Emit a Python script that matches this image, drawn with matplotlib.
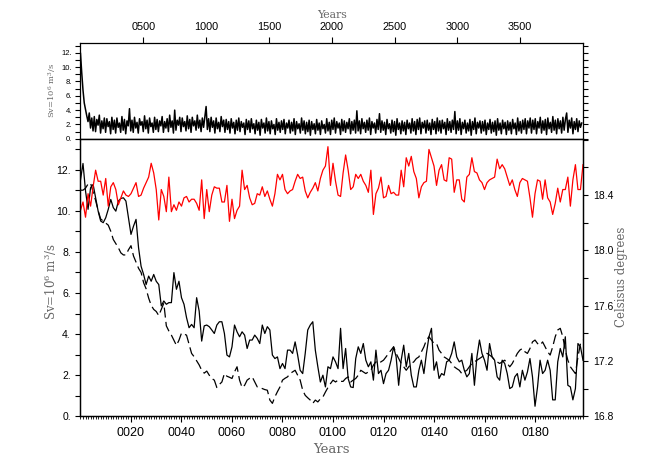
import numpy as np
import matplotlib
matplotlib.use("Agg")
import matplotlib.pyplot as plt
from matplotlib.ticker import MultipleLocator, FuncFormatter

# long control run, one value every 10 years (Sv)
long_years = np.arange(0, 4000, 10)
long_moc = [
    11.9, 9.2, 6.8, 5.0, 4.1, 3.2, 2.4, 3.6, 1.5, 2.9, 1.1, 3.1, 1.0, 2.7, 1.9, 3.3, 0.8, 2.5, 1.4, 2.9,
    0.9, 2.8, 1.7, 2.4, 0.7, 3.0, 1.3, 2.6, 0.8, 2.9, 1.6, 2.2, 0.9, 3.1, 1.2, 2.7, 0.7, 2.5, 1.8, 4.2,
    1.1, 2.6, 0.9, 3.0, 1.5, 2.3, 0.8, 2.8, 1.9, 2.4, 1.0, 3.2, 1.4, 2.6, 0.8, 2.9, 1.7, 2.2, 0.9, 3.0,
    1.3, 2.7, 1.0, 2.5, 1.8, 3.1, 0.9, 2.4, 1.5, 2.8, 1.0, 3.3, 1.6, 2.5, 0.8, 4.0, 1.2, 2.6, 1.9, 3.0,
    1.0, 2.9, 1.7, 2.4, 1.1, 3.2, 1.4, 2.7, 0.9, 3.0, 1.8, 2.5, 1.2, 3.3, 1.5, 2.6, 1.0, 2.9, 1.6, 3.1,
    4.5, 1.3, 2.8, 1.0, 3.0, 1.6, 2.5, 0.8, 2.9, 1.4, 2.3, 1.0, 3.1, 1.7, 2.6, 0.9, 2.7, 1.3, 2.4, 0.8,
    2.8, 1.5, 2.3, 0.7, 2.6, 1.2, 2.9, 1.0, 2.4, 1.6, 2.2, 0.6, 2.7, 1.3, 2.5, 0.9, 2.8, 1.4, 2.1, 0.7,
    2.6, 1.2, 2.3, 0.5, 2.7, 1.5, 2.2, 0.8, 2.9, 1.1, 2.4, 0.7, 2.5, 1.4, 2.0, 0.6, 2.8, 1.2, 2.3, 0.9,
    2.5, 1.3, 2.7, 0.7, 2.2, 1.5, 2.6, 0.8, 2.3, 1.1, 2.8, 0.6, 2.4, 1.4, 2.1, 0.8, 2.9, 1.2, 2.5, 0.7,
    2.3, 1.0, 2.6, 0.5, 2.4, 1.3, 2.1, 0.7, 2.7, 1.2, 2.2, 0.6, 2.5, 1.4, 2.0, 0.8, 2.8, 1.1, 2.3, 0.6,
    2.6, 1.3, 2.9, 0.8, 2.4, 1.5, 2.2, 0.6, 2.7, 1.1, 2.5, 0.9, 2.3, 1.4, 2.8, 0.7, 2.4, 1.2, 2.6, 0.8,
    3.9, 1.1, 2.5, 0.7, 2.8, 1.4, 2.3, 0.9, 2.6, 1.2, 2.9, 0.6, 2.4, 1.5, 2.2, 0.8, 2.7, 1.3, 3.5, 0.9,
    2.5, 1.2, 2.3, 0.6, 2.7, 1.4, 2.1, 0.8, 2.6, 1.0, 2.4, 0.5, 2.8, 1.3, 2.2, 0.7, 2.5, 1.1, 2.3, 0.6,
    2.6, 1.4, 2.2, 0.8, 2.8, 1.1, 2.4, 0.6, 2.7, 1.3, 2.9, 0.7, 2.3, 1.5, 2.5, 0.8, 2.6, 1.2, 2.2, 0.6,
    2.7, 1.3, 2.4, 0.7, 2.9, 1.1, 2.5, 0.8, 2.6, 1.4, 2.3, 0.6, 2.8, 1.2, 2.4, 0.9, 2.6, 1.3, 3.8, 0.7,
    2.5, 1.2, 2.8, 0.6, 2.3, 1.4, 2.6, 0.8, 2.2, 1.1, 2.7, 0.5, 2.4, 1.3, 2.9, 0.7, 2.3, 1.5, 2.5, 0.8,
    2.4, 1.1, 2.6, 0.6, 2.2, 1.3, 2.7, 0.8, 2.3, 1.0, 2.5, 0.5, 2.8, 1.2, 2.2, 0.7, 2.6, 1.4, 2.3, 0.6,
    2.5, 1.2, 2.3, 0.7, 2.7, 1.4, 2.2, 0.6, 2.9, 1.1, 2.4, 0.8, 2.6, 1.3, 2.8, 0.7, 2.5, 1.5, 2.9, 0.8,
    2.6, 1.3, 2.8, 0.7, 2.4, 1.5, 3.0, 0.8, 2.5, 1.2, 2.7, 0.6, 2.9, 1.4, 2.3, 0.9, 3.1, 1.2, 2.6, 0.7,
    2.8, 1.4, 2.5, 0.8, 3.0, 1.2, 2.7, 3.6, 0.9, 2.6, 1.5, 2.9, 0.7, 2.4, 1.3, 2.8, 1.0, 2.5, 1.6, 2.2,
]

# first 200 years, annual
years = np.arange(200)
moc_solid = [
    11.5, 12.3, 10.96, 10.07, 11.12, 11.28, 10.63, 9.98, 9.5, 9.42,
    9.66, 10.07, 10.55, 10.15, 9.98, 10.47, 10.6, 10.63, 10.47, 9.66,
    8.85, 9.25, 9.58, 8.2, 7.3, 6.9, 6.41, 6.82, 6.57, 6.9,
    6.57, 6.41, 5.37, 5.61, 5.45, 5.53, 5.53, 6.99, 6.18, 6.57,
    5.77, 5.45, 4.8, 4.31, 4.47, 4.31, 5.77, 5.12, 3.66, 4.4,
    4.44, 4.36, 4.2, 4.03, 4.44, 4.6, 4.6, 4.03, 2.98, 2.89,
    3.38, 4.44, 4.11, 3.87, 4.11, 3.95, 3.3, 3.71, 3.71, 3.95,
    3.79, 3.54, 4.44, 4.03, 4.36, 4.2, 2.98, 2.81, 2.89, 2.32,
    2.57, 2.32, 3.22, 3.22, 3.06, 3.62, 2.98, 2.24, 2.08, 3.06,
    4.2, 4.44, 4.6, 3.22, 2.41, 1.67, 2.0, 1.43, 2.41, 2.32,
    2.89, 2.65, 2.32, 4.28, 2.32, 3.3, 1.84, 1.43, 1.4, 2.81,
    3.38, 3.06, 3.54, 2.73, 2.41, 2.65, 1.76, 3.22, 2.08, 2.24,
    1.59, 2.08, 2.24, 2.73, 3.38, 2.89, 1.51, 2.73, 3.46, 2.41,
    3.06, 2.0, 1.43, 1.43, 2.24, 2.73, 2.08, 3.06, 3.87, 4.28,
    2.24, 2.65, 1.84, 2.08, 2.0, 2.65, 2.73, 3.06, 3.62, 2.89,
    2.65, 2.73, 2.24, 1.92, 2.08, 3.06, 1.51, 2.89, 3.71, 3.06,
    2.73, 2.24, 3.54, 2.89, 2.73, 1.92, 1.76, 2.73, 2.57, 2.08,
    1.35, 1.43, 1.92, 2.08, 1.43, 2.24, 1.76, 2.16, 2.81, 1.92,
    0.49, 1.43, 2.73, 2.08, 2.24, 2.73, 2.24, 0.8, 0.8, 2.65,
    3.3, 2.89, 3.87, 1.51, 1.43, 0.8, 1.35, 3.54, 3.38, 2.73,
]
moc_dashed = [
    11.0, 11.0, 11.1, 11.3, 11.35, 10.9, 10.5, 10.0, 9.6, 9.5,
    9.4, 9.3, 9.0, 8.6, 8.4, 8.2, 7.95, 7.85, 7.85, 8.1,
    8.3, 7.8, 7.5, 7.2, 7.0, 6.5, 6.2, 5.75, 5.4, 5.2,
    5.1, 4.9, 5.2, 5.5, 4.4, 4.15, 3.95, 3.7, 3.45, 3.7,
    4.05, 4.0, 3.95, 3.5, 3.06, 2.9, 2.7, 2.5, 2.24, 2.1,
    2.2, 2.0, 1.84, 1.76, 1.4, 1.55, 1.67, 2.08, 1.95, 1.9,
    1.84, 2.16, 2.41, 1.76, 1.4, 1.51, 1.76, 1.85, 1.92, 1.67,
    1.43, 1.4, 1.35, 1.3, 1.27, 0.79, 0.63, 0.95, 1.2, 1.43,
    1.76, 1.85, 1.92, 2.08, 2.16, 2.24, 2.0, 1.76, 1.27, 1.02,
    0.9, 0.79, 0.63, 0.79, 0.7, 0.85, 0.94, 1.18, 1.4, 1.59,
    1.76, 1.67, 1.76, 1.7, 1.7, 1.84, 1.92, 1.67, 1.76, 1.84,
    2.0, 2.24, 2.16, 2.08, 2.16, 2.24, 2.49, 2.65, 2.57, 2.65,
    2.73, 2.89, 3.06, 3.22, 3.38, 3.06, 2.81, 2.57, 2.41, 2.24,
    2.41, 2.57, 2.65, 2.81, 2.89, 3.14, 3.38, 3.71, 3.87, 3.71,
    3.54, 3.54, 3.22, 3.06, 2.89, 2.81, 2.73, 2.57, 2.41, 2.32,
    2.24, 2.08, 2.16, 2.24, 2.41, 2.57, 2.65, 2.73, 2.81, 2.89,
    3.06, 3.06, 2.98, 2.89, 2.73, 2.65, 2.57, 2.65, 2.73, 2.57,
    2.41, 2.57, 2.81, 3.06, 3.22, 3.3, 3.14, 3.06, 3.3, 3.62,
    3.71, 3.54, 3.46, 3.62, 3.38, 3.14, 2.98, 3.38, 3.87, 4.2,
    4.28, 3.87, 3.22, 2.73, 2.41, 2.24, 2.08, 2.89, 3.54, 3.71,
]
# temperature (right axis, Celsius)
temp = [
    18.29, 18.35, 18.24, 18.41, 18.32, 18.46, 18.58, 18.50, 18.50, 18.40,
    18.52, 18.32, 18.46, 18.49, 18.44, 18.33, 18.38, 18.43, 18.40, 18.39,
    18.41, 18.45, 18.49, 18.39, 18.40, 18.45, 18.49, 18.53, 18.63, 18.56,
    18.44, 18.22, 18.44, 18.39, 18.28, 18.53, 18.28, 18.33, 18.29, 18.35,
    18.32, 18.38, 18.39, 18.35, 18.37, 18.37, 18.34, 18.29, 18.51, 18.23,
    18.44, 18.28, 18.40, 18.46, 18.45, 18.45, 18.35, 18.35, 18.47, 18.21,
    18.37, 18.23, 18.29, 18.32, 18.58, 18.44, 18.47, 18.38, 18.33, 18.34,
    18.41, 18.40, 18.46, 18.39, 18.43, 18.37, 18.32, 18.41, 18.55, 18.51,
    18.55, 18.44, 18.41, 18.43, 18.44, 18.50, 18.55, 18.52, 18.53, 18.43,
    18.38, 18.42, 18.45, 18.49, 18.43, 18.52, 18.58, 18.61, 18.75, 18.47,
    18.63, 18.50, 18.40, 18.39, 18.56, 18.69, 18.58, 18.44, 18.46, 18.55,
    18.52, 18.55, 18.50, 18.47, 18.42, 18.58, 18.26, 18.41, 18.45, 18.53,
    18.38, 18.39, 18.47, 18.41, 18.42, 18.40, 18.40, 18.58, 18.46, 18.67,
    18.61, 18.68, 18.57, 18.52, 18.38, 18.46, 18.49, 18.50, 18.73, 18.67,
    18.61, 18.47, 18.58, 18.62, 18.51, 18.50, 18.67, 18.66, 18.42, 18.51,
    18.51, 18.37, 18.35, 18.53, 18.55, 18.67, 18.57, 18.56, 18.51, 18.49,
    18.44, 18.49, 18.51, 18.52, 18.53, 18.66, 18.59, 18.62, 18.59, 18.53,
    18.47, 18.51, 18.44, 18.39, 18.49, 18.52, 18.51, 18.50, 18.38, 18.24,
    18.41, 18.51, 18.50, 18.37, 18.51, 18.38, 18.35, 18.26, 18.34, 18.45,
    18.35, 18.44, 18.44, 18.53, 18.32, 18.51, 18.62, 18.44, 18.44, 18.62,
]

plt.rcParams['font.family'] = ['Liberation Sans', 'DejaVu Sans']
plt.rcParams['mathtext.fontset'] = 'dejavuserif'
label_kw = dict(family='DejaVu Serif', color='#666666')

fig = plt.figure(figsize=(6.64, 4.65), dpi=100)
ax1 = fig.add_axes([0.1212, 0.7015, 0.7568, 0.2067])
ax2 = fig.add_axes([0.1212, 0.1047, 0.7568, 0.5968])
ax3 = ax2.twinx()

yr_fmt = FuncFormatter(lambda v, p: "%04d" % int(round(v)))
dot_fmt = FuncFormatter(lambda v, p: "%d." % int(round(v)))

# top panel: whole run
ax1.plot(long_years, long_moc, color='black', lw=1.1)
ax1.set_xlim(0, 4000)
ax1.set_ylim(0, 13.4)
ax1.set_xticks(range(500, 4000, 500))
ax1.xaxis.set_major_formatter(yr_fmt)
ax1.yaxis.set_major_locator(MultipleLocator(2))
ax1.yaxis.set_minor_locator(MultipleLocator(1))
ax1.yaxis.set_major_formatter(dot_fmt)
ax1.tick_params(axis='x', which='both', direction='out', top=True, bottom=True,
                labeltop=True, labelbottom=False, labelsize=7.8, length=4, width=0.8)
ax1.tick_params(axis='y', which='both', direction='out', left=True, right=True,
                labelleft=True, labelright=False, labelsize=5.5, length=3.5, width=0.8, pad=2.5)

# bottom panel: first 200 years
ax2.plot(years, moc_solid, color='black', lw=0.9)
ax2.plot(years, moc_dashed, color='black', lw=0.9, dashes=(8, 3.5))
ax3.plot(years, temp, color='red', lw=0.9)

ax2.set_xlim(0, 199)
ax2.set_ylim(0, 13.5)
ax3.set_ylim(16.8, 18.807)
ax2.set_xticks(range(20, 200, 20))
ax2.xaxis.set_minor_locator(MultipleLocator(1))
ax2.xaxis.set_major_formatter(yr_fmt)
ax2.yaxis.set_major_locator(MultipleLocator(2))
ax2.yaxis.set_minor_locator(MultipleLocator(1))
ax2.yaxis.set_major_formatter(dot_fmt)
ax3.set_yticks([16.8, 17.2, 17.6, 18.0, 18.4])
ax3.yaxis.set_minor_locator(MultipleLocator(0.2))
ax3.yaxis.set_major_formatter(FuncFormatter(lambda v, p: "%.1f" % v))

ax2.tick_params(axis='x', which='major', direction='out', top=False, labelsize=9,
                length=4.5, width=0.8)
ax2.tick_params(axis='x', which='minor', direction='out', top=False, length=2.2, width=0.6)
ax2.tick_params(axis='y', which='both', direction='out', labelsize=7.5, length=3.5, width=0.8)
ax3.tick_params(axis='y', which='both', direction='out', labelsize=7.5, length=3.5, width=0.8)

for a in (ax1, ax2, ax3):
    for s in a.spines.values():
        s.set_linewidth(0.9)

# axis titles
fig.text(0.4992, 1 - 15 / 465, "Years", ha='center', va='center', fontsize=7.8, **label_kw)
fig.text(0.4992, 1 - 449 / 465, "Years", ha='center', va='center', fontsize=9.5, **label_kw)
fig.text(53 / 664, 1 - 90 / 465, r"Sv=10$^6$ m$^3$/s", rotation=90, ha='center', va='center',
         fontsize=6, **label_kw)
fig.text(51 / 664, 1 - 281 / 465, r"Sv=10$^6$ m$^3$/s", rotation=90, ha='center', va='center',
         fontsize=8.5, **label_kw)
fig.text(622 / 664, 1 - 277 / 465, "Celsisus degrees", rotation=90, ha='center', va='center',
         fontsize=8.5, **label_kw)

fig.savefig("out.png", dpi=100)
